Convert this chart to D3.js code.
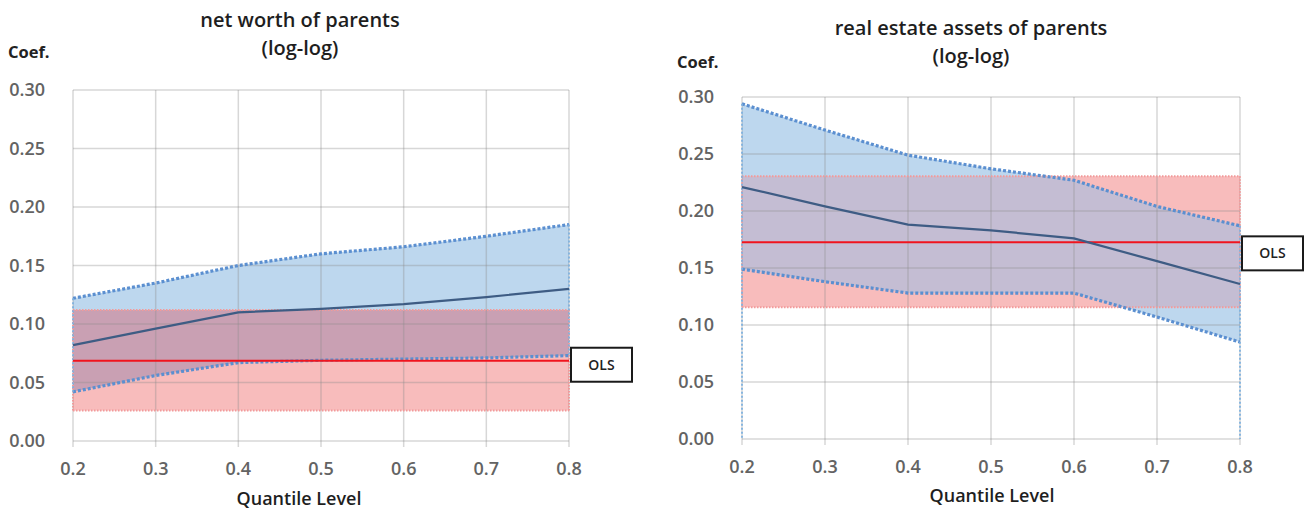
<!DOCTYPE html>
<html>
<head>
<meta charset="utf-8">
<script src="https://cdn.jsdelivr.net/npm/d3@7"></script>
<style>
  body { margin: 0; background: #fff; }
  svg { display: block; font-family: "Open Sans", "Noto Sans", sans-serif; }
</style>
</head>
<body>
<svg id="chart" width="1307" height="512"></svg>
<script>
// quantile levels (x axis)
const quantiles = [0.2, 0.3, 0.4, 0.5, 0.6, 0.7, 0.8];
const yTicks = [0, 0.05, 0.10, 0.15, 0.20, 0.25, 0.30];

// net worth of parents
const netCoef  = [0.082, 0.096, 0.110, 0.113, 0.117, 0.123, 0.130];
const netUpper = [0.122, 0.135, 0.150, 0.160, 0.166, 0.175, 0.185];
const netLower = [0.042, 0.056, 0.067, 0.069, 0.070, 0.071, 0.073];
const netOls   = [0.026, 0.0686, 0.112];   // lower, estimate, upper

// real estate assets of parents
const realCoef  = [0.221, 0.204, 0.188, 0.183, 0.176, 0.156, 0.136];
const realUpper = [0.294, 0.271, 0.249, 0.237, 0.227, 0.204, 0.187];
const realLower = [0.149, 0.138, 0.128, 0.128, 0.128, 0.107, 0.085];
const realOls   = [0.1155, 0.1725, 0.2305];

let svg = d3.select("#chart");

let panels = [
    {id: "net", title: ["net worth of parents", "(log-log)"], coef: netCoef, upper: netUpper, lower: netLower, ols: netOls,
     x0: 73, x1: 569, yTop: 90, yBot: 441, titleX: 300, titleY: [27, 55], coefY: 58, tickY: 475, xlabX: 299, xlabY: 505,
     edgeToZero: false, overlap: "#c9a0b3", olsBox: {dy: -13}},
    {id: "real", title: ["real estate assets of parents", "(log-log)"], coef: realCoef, upper: realUpper, lower: realLower, ols: realOls,
     x0: 742, x1: 1240, yTop: 97, yBot: 439, titleX: 971, titleY: [35, 63], coefY: 68, tickY: 473, xlabX: 992, xlabY: 502,
     edgeToZero: true, overlap: "#c4bdd3", olsBox: {dy: -6}}
];

panels.forEach(function (p) {
    let x = d3.scaleLinear().domain([0.2, 0.8]).range([p.x0, p.x1]);
    let y = d3.scaleLinear().domain([0, 0.3]).range([p.yBot, p.yTop]);
    let g = svg.append("g");
    let data = quantiles.map((q, i) => ({q: q, c: p.coef[i], u: p.upper[i], l: p.lower[i]}));

    // blue confidence band
    let band = d3.area().x(d => x(d.q)).y0(d => y(d.l)).y1(d => y(d.u));
    g.append("path").datum(data).attr("d", band).attr("fill", "#bdd7ee");

    // OLS band
    g.append("rect")
        .attr("x", x(0.2)).attr("width", x(0.8) - x(0.2))
        .attr("y", y(p.ols[2])).attr("height", y(p.ols[0]) - y(p.ols[2]))
        .attr("fill", "#f8bcbc");

    // overlap of the two bands
    svg.append("clipPath").attr("id", "clip-" + p.id)
        .append("rect")
        .attr("x", x(0.2)).attr("width", x(0.8) - x(0.2))
        .attr("y", y(p.ols[2])).attr("height", y(p.ols[0]) - y(p.ols[2]));
    g.append("path").datum(data).attr("d", band)
        .attr("fill", p.overlap)
        .attr("clip-path", "url(#clip-" + p.id + ")");

    // grid
    let grid = g.append("g").attr("stroke", "#8c8c8c").attr("stroke-opacity", 0.35).attr("stroke-width", 1.5);
    grid.selectAll(".hy").data(yTicks).enter().append("line")
        .attr("x1", x(0.2)).attr("x2", x(0.8))
        .attr("y1", d => y(d)).attr("y2", d => y(d));
    grid.selectAll(".vx").data(quantiles).enter().append("line")
        .attr("x1", d => x(d)).attr("x2", d => x(d))
        .attr("y1", y(0.3)).attr("y2", y(0) + 6);

    // OLS band borders (dotted pink)
    let pinkDot = {stroke: "#f29a9a", w: 2, dash: "1.5 1.5"};
    [p.ols[0], p.ols[2]].forEach(function (v) {
        g.append("line")
            .attr("x1", x(0.2)).attr("x2", x(0.8))
            .attr("y1", y(v)).attr("y2", y(v))
            .attr("stroke", pinkDot.stroke).attr("stroke-width", pinkDot.w).attr("stroke-dasharray", pinkDot.dash);
    });
    [0.2, 0.8].forEach(function (q) {
        g.append("line")
            .attr("x1", x(q)).attr("x2", x(q))
            .attr("y1", y(p.ols[2])).attr("y2", y(p.ols[0]))
            .attr("stroke", pinkDot.stroke).attr("stroke-width", pinkDot.w).attr("stroke-dasharray", pinkDot.dash);
    });

    // confidence band borders (dotted blue)
    let edge = d3.line().x(d => x(d.q));
    g.append("path").datum(data).attr("d", edge.y(d => y(d.u)))
        .attr("fill", "none").attr("stroke", "#5b8fd0").attr("stroke-width", 3.2).attr("stroke-dasharray", "3 2");
    g.append("path").datum(data).attr("d", edge.y(d => y(d.l)))
        .attr("fill", "none").attr("stroke", "#5b8fd0").attr("stroke-width", 3.2).attr("stroke-dasharray", "3 2");
    [data[0], data[data.length - 1]].forEach(function (d) {
        g.append("line")
            .attr("x1", x(d.q)).attr("x2", x(d.q))
            .attr("y1", y(d.u)).attr("y2", p.edgeToZero ? y(0) : y(d.l))
            .attr("stroke", "#7fb2e0").attr("stroke-width", 1.8).attr("stroke-dasharray", "2 2");
    });

    // OLS estimate
    g.append("line")
        .attr("x1", x(0.2)).attr("x2", x(0.8))
        .attr("y1", y(p.ols[1])).attr("y2", y(p.ols[1]))
        .attr("stroke", "#f0141e").attr("stroke-width", 2);

    // quantile estimate
    g.append("path").datum(data)
        .attr("d", d3.line().x(d => x(d.q)).y(d => y(d.c)))
        .attr("fill", "none").attr("stroke", "#3e5c84").attr("stroke-width", 2.2);

    // OLS label box
    let bx = x(0.8) + 2, by = y(p.ols[1]) + p.olsBox.dy;
    g.append("rect").attr("x", bx).attr("y", by).attr("width", 61).attr("height", 34)
        .attr("fill", "#fff").attr("stroke", "#1a1a1a").attr("stroke-width", 2);
    g.append("text").attr("x", bx + 30.5).attr("y", by + 22)
        .attr("text-anchor", "middle").attr("font-size", 14).attr("font-weight", 600).attr("fill", "#222")
        .text("OLS");

    // axes labels
    g.selectAll(".ytick").data(yTicks).enter().append("text")
        .attr("x", x(0.2) - 28).attr("y", d => y(d) + 6)
        .attr("text-anchor", "end").attr("font-size", 18).attr("font-weight", 600).attr("fill", "#636363")
        .text(d => d3.format(".2f")(d));
    g.selectAll(".xtick").data(quantiles).enter().append("text")
        .attr("x", d => x(d)).attr("y", p.tickY)
        .attr("text-anchor", "middle").attr("font-size", 18).attr("font-weight", 600).attr("fill", "#636363")
        .text(d => d3.format(".1f")(d));

    g.append("text").attr("x", x(0.2) - 65).attr("y", p.coefY)
        .attr("font-size", 16.5).attr("font-weight", 700).attr("fill", "#222").text("Coef.");
    p.title.forEach(function (t, i) {
        g.append("text").attr("x", p.titleX).attr("y", p.titleY[i])
            .attr("text-anchor", "middle").attr("font-size", 20).attr("font-weight", 600).attr("fill", "#1e1e1e")
            .text(t);
    });
    g.append("text").attr("x", p.xlabX).attr("y", p.xlabY)
        .attr("text-anchor", "middle").attr("font-size", 18).attr("font-weight", 600).attr("fill", "#1e1e1e")
        .text("Quantile Level");
});
</script>
</body>
</html>
